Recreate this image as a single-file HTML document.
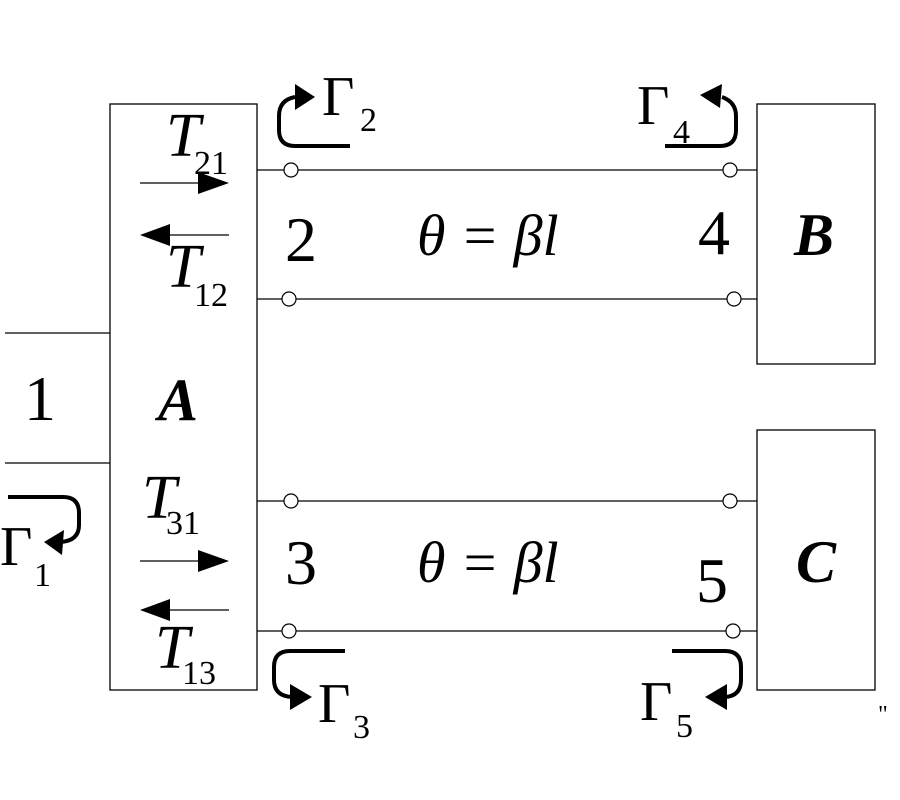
<!DOCTYPE html>
<html><head><meta charset="utf-8"><style>body{margin:0;background:#fff}svg{display:block}</style></head>
<body>
<svg width="900" height="800" viewBox="0 0 900 800" xmlns="http://www.w3.org/2000/svg" font-family="Liberation Serif, serif">
<g fill="none" stroke="#000" stroke-width="1.3">
<rect x="110" y="104" width="147" height="586"/>
<rect x="757" y="104" width="118" height="260"/>
<rect x="757" y="430" width="118" height="260"/>
<line x1="5" y1="333" x2="110" y2="333"/>
<line x1="5" y1="463" x2="110" y2="463"/>
<line x1="257" y1="170" x2="757" y2="170"/>
<line x1="257" y1="299" x2="757" y2="299"/>
<line x1="257" y1="501" x2="757" y2="501"/>
<line x1="257" y1="631" x2="757" y2="631"/>
</g>
<g fill="#fff" stroke="#000" stroke-width="1.2">
<ellipse cx="291" cy="170" rx="7" ry="7"/>
<ellipse cx="289" cy="299" rx="7" ry="7"/>
<ellipse cx="730" cy="170" rx="7" ry="7"/>
<ellipse cx="734" cy="299" rx="7" ry="7"/>
<ellipse cx="291" cy="501" rx="7" ry="7"/>
<ellipse cx="289" cy="631" rx="7" ry="7"/>
<ellipse cx="730" cy="501" rx="7" ry="7"/>
<ellipse cx="733" cy="631" rx="7" ry="7"/>
</g>
<g stroke="#000" stroke-width="1.3" fill="#000">
<line x1="140" y1="183" x2="205" y2="183"/><path d="M198,172 L229,183 L198,194 z" stroke="none"/>
<line x1="229" y1="235" x2="165" y2="235"/><path d="M170,224 L140,235 L170,246 z" stroke="none"/>
<line x1="140" y1="561" x2="205" y2="561"/><path d="M198,550 L229,561 L198,572 z" stroke="none"/>
<line x1="229" y1="610" x2="165" y2="610"/><path d="M170,599 L140,610 L170,621 z" stroke="none"/>
</g>
<g fill="none" stroke="#000" stroke-width="4">
<path d="M350,146 L295,146 Q279,146 279,130 L279,116 Q279,100 295,97"/>
<path d="M665,146 L720,146 Q736,146 736,130 L736,116 Q736,102 722,97"/>
<path d="M8,497 L63,497 Q79,497 79,513 L79,525 Q79,541 60,542"/>
<path d="M345,651 L290,651 Q274,651 274,667 L274,680 Q274,696 292,697"/>
<path d="M672,651 L725,651 Q741,651 741,667 L741,680 Q741,696 725,697"/>
</g>
<g fill="#000">
<path d="M295,84 L315,97 L295,110 z"/>
<path d="M722,84 L700,95 L720,108 z"/>
<path d="M64,530 L44,542 L62,555 z"/>
<path d="M290,684 L312,697 L290,710 z"/>
<path d="M727,684 L705,697 L727,710 z"/>
</g>
<g font-size="56">
<text x="322" y="115">Γ</text><text x="360" y="131" font-size="34">2</text>
<text x="637" y="124">Γ</text><text x="673" y="143" font-size="34">4</text>
<text x="0" y="565">Γ</text><text x="34" y="586" font-size="34">1</text>
<text x="318" y="722">Γ</text><text x="353" y="738" font-size="34">3</text>
<text x="640" y="720">Γ</text><text x="676" y="737" font-size="34">5</text>
</g>
<g font-size="62" font-style="italic">
<text x="166" y="156">T</text>
<text x="166" y="287">T</text>
<text x="142" y="518">T</text>
<text x="155" y="668">T</text>
</g>
<g font-size="34">
<text x="194" y="174">21</text>
<text x="194" y="306">12</text>
<text x="166" y="534">31</text>
<text x="182" y="684">13</text>
</g>
<g font-size="64">
<text x="285" y="261">2</text>
<text x="698" y="254">4</text>
<text x="285" y="584">3</text>
<text x="696" y="602">5</text>
<text x="24" y="420">1</text>
</g>
<g font-size="58" font-style="italic">
<text x="417" y="255">θ = βl</text>
<text x="417" y="582">θ = βl</text>
</g>
<g font-size="60" font-style="italic" font-weight="bold">
<text x="158" y="420">A</text>
<text x="794" y="255">B</text>
<text x="796" y="582">C</text>
</g>
<text x="878" y="722" font-size="24">"</text>
</svg>
</body></html>
